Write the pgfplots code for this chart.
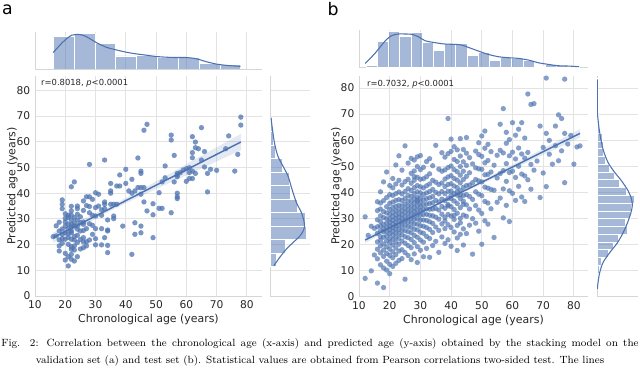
\documentclass[border=0pt]{standalone}
\usepackage{fontspec}
\usepackage{pgfplots}
\pgfplotsset{compat=1.18}
\newfontfamily\dejavu{DejaVu Sans}
\definecolor{sblue}{HTML}{4C72B0}
\definecolor{tickgray}{HTML}{262626}

\pgfplotsset{
  jp/.style={scale only axis, anchor=south west,
    axis x line*=bottom, axis y line*=left,
    axis line style={draw=black!16, line width=0.6pt},
    grid style={draw=black!11, line width=0.6pt},
    major tick length=0pt,
    tick label style={font=\dejavu\fontsize{8}{9}\selectfont, text=tickgray},
    label style={font=\dejavu\fontsize{8.2}{9}\selectfont, text=tickgray},
    xlabel shift=-2.5pt, ylabel shift=-7.5pt,
    /pgf/number format/assume math mode=true},
  hist/.style={fill=sblue, fill opacity=0.5, draw=white, line width=0.5pt},
  kde/.style={sblue, line width=0.8pt, smooth, no marks},
  dots/.style={only marks, mark=*, color=sblue,
    mark options={scale=1.0, draw opacity=0, fill=sblue, fill opacity=#1}},
}

\begin{document}
\begin{tikzpicture}
\useasboundingbox (0,0) rectangle (480pt,283.5pt);

% ---------------- panel a ----------------
\begin{axis}[jp, at={(26.25pt,231.75pt)}, width=170.25pt, height=27.75pt,
  xmin=10, xmax=85, ymin=0, ymax=113,
  xtick={10,20,...,80}, xticklabels={}, ytick=\empty, xmajorgrids]
\addplot[hist, ybar interval] coordinates {(16,100) (22.89,108) (29.78,78) (36.67,40) (43.56,43) (50.44,36) (57.33,36) (64.22,18) (71.11,13) (78,13)};
\addplot[kde] coordinates {(16.0,50) (19.3,83) (22.1,103) (24.9,105) (27.1,98) (30.4,80) (33.7,66) (37.0,58) (40.3,51) (43.6,46) (46.9,42) (50.2,38) (53.5,36) (56.8,35) (60.1,35) (63.4,31) (66.7,22) (70.0,15) (73.3,11) (77.9,8)};
\end{axis}

\begin{axis}[jp, at={(26.25pt,61.5pt)}, width=170.25pt, height=165pt,
  xmin=10, xmax=85, ymin=0, ymax=85.6,
  xtick={10,20,...,80}, ytick={0,10,...,80}, grid=major,
  xlabel={Chronological age (years)}, ylabel={Predicted age (years)}]
\addplot[fill=sblue, fill opacity=0.15, draw=none] coordinates {(16,24.7) (25,29.4) (35,35.0) (45,41.3) (55,47.9) (65,54.6) (78,63.1) (78,56.7) (65,49.6) (55,44.3) (45,38.9) (35,33.2) (25,26.8) (16,20.7)} -- cycle;
\addplot[dots=0.75] coordinates {
(47,66.8) (46,64.5) (28,51.2) (33,52.9) (44,53.7) (40,49.3) (45,48.6) (45,47.7) (38,47.1) (42,45.4)
(23,44.4) (22,42.5) (35,43.8) (40,43.8) (38,42.8) (44,42.2) (45,42.2) (46,42.2) (30,40.2) (31,39.6)
(35,40.9) (35,40.0) (37,42.8) (41,40.9) (42,40.0) (43,40.9) (45,39.6) (27,38.6) (28,38.6) (26,37.0)
(29,37.6) (33,35.7) (33,36.6) (35,35.7) (36,35.7) (37,35.7) (46,36.6) (47,33.1) (19,37.4) (19,35.7)
(19,34.0) (24,35.0) (24,34.0) (22,33.1) (26,33.3) (30,34.4) (33,34.0) (28,32.4) (29,31.4) (21,31.4)
(30,31.1) (32,31.4) (34,29.6) (36,31.1) (36,30.1) (21,30.5) (20,28.8) (22,29.6) (23,30.5) (24,29.6)
(25,28.5) (26,28.8) (26,27.9) (22,27.9) (23,27.2) (20,27.2) (21,26.2) (18,25.3) (19,24.0) (20,24.6)
(22,25.3) (22,24.6) (24,26.0) (25,25.3) (27,26.2) (30,26.2) (32,26.2) (34,25.7) (34,25.3) (39,27.2)
(43,28.5) (45,27.2) (43,24.0) (45,24.6) (16,23.1) (17,23.4) (18,21.8) (19,22.3) (20,22.1) (22,22.1)
(23,21.8) (24,23.6) (26,22.7) (28,21.8) (29,24.0) (30,22.3) (33,22.7) (18,19.5) (18,17.5) (21,20.1)
(22,19.2) (23,19.5) (27,21.1) (27,19.5) (30,19.9) (32,19.9) (34,19.7) (34,16.9) (42,16.2) (20,16.6)
(22,18.2) (23,17.9) (22,16.2) (20,14.0) (22,14.3) (21,11.7) (24,15.3) (26,18.8)
(20,30.2) (21,28.0) (22,26.8) (23,28.5) (24,27.3) (21,24.2) (23,23.2) (25,30.8) (20,32.0) (22,31.5)
(24,31.8) (19,26.1) (21,22.8) (25,22.0) (26,25.5) (28,28.1) (28,34.8) (31,35.0) (32,33.5) (27,35.2)
(22,34.9) (18,28.7) (17,27.3) (19,20.5) (24,20.8) (25,18.3) (23,13.6) (21,15.3) (26,21.0) (29,27.5)
(78,69.6) (78,66.5) (74,62.3) (73,57.3) (77,55.1) (76,48.6) (70,48.9) (68,49.3) (67,47.7) (66,50.2)
(66,56.2) (65,65.5) (63,59.9) (63,57.7) (64,57.3) (62,62.0) (62,55.8) (62,53.8) (65,52.9) (62,48.6)
(63,47.7) (61,48.0) (61,45.7) (62,45.7) (60,44.6) (60,49.5) (61,49.9) (59,49.0) (58,48.0) (57,47.1)
(57,46.4) (57,47.7) (56,44.4) (55,60.7) (55,62.6) (56,54.7) (53,50.6) (53,46.0) (52,44.4) (51,40.2)
(57,40.0) (57,38.6) (57,37.9) (67,40.5) (49,35.9) (51,34.1) (52,34.1) (55,32.4) (49,31.6) (49,22.7)
};
\addplot[sblue, line width=1.1pt, no marks] coordinates {(16,22.7) (25,28.1) (35,34.1) (45,40.1) (55,46.1) (65,52.1) (78,59.9)};
\node[anchor=north west, inner sep=0pt, font=\dejavu\fontsize{6.3}{7}\selectfont, text=tickgray]
  at (rel axis cs:0.026,0.986) {r=0.8018, {\itshape p}<0.0001};
\end{axis}

\begin{axis}[jp, at={(202.5pt,61.5pt)}, width=30pt, height=165pt,
  xmin=0, xmax=118, ymin=0, ymax=85.6,
  ytick={0,10,...,80}, yticklabels={}, xtick=\empty, ymajorgrids]
\addplot[hist, xbar interval] coordinates {(20,11.4) (45,16.7) (108,21.9) (103,27.2) (81,32.5) (61,37.7) (58,43.0) (35,48.3) (15,53.6) (11,58.8) (6,64.1) (6,69.4)};
\addplot[kde] coordinates {(3,69.4) (6,66.1) (13,59.7) (23,54.5) (38,50.6) (53,46.7) (65,41.5) (78,36.3) (93,32.4) (101,28.5) (100,25.9) (88,23.3) (68,20.8) (48,18.2) (28,14.9) (11,11.7)};
\end{axis}

% ---------------- panel b ----------------
\begin{axis}[jp, at={(269.25pt,232.7pt)}, width=171.75pt, height=28.3pt,
  xmin=10, xmax=84.6, ymin=0, ymax=113,
  xtick={10,20,...,80}, xticklabels={}, ytick=\empty, xmajorgrids]
\addplot[hist, ybar interval] coordinates {(12.3,8) (15.95,78) (19.6,108) (23.25,95) (26.9,106) (30.55,75) (34.2,53) (37.85,73) (41.5,73) (45.15,36) (48.8,45) (52.45,23) (56.1,31) (59.75,28) (63.4,21) (67.05,3) (70.7,10) (74.35,8) (78.0,3) (81.65,3)};
\addplot[kde] coordinates {(12.0,13) (15.2,43) (18.5,80) (20.6,96) (22.8,101) (25.0,101) (27.2,100) (29.3,93) (31.5,81) (34.8,75) (38.0,71) (41.3,70) (43.4,68) (45.6,61) (48.9,50) (52.1,40) (55.4,33) (58.6,30) (61.9,28) (65.2,23) (68.4,15) (71.7,10) (74.9,6) (78.2,5) (81.7,3)};
\end{axis}

\begin{axis}[jp, at={(269.25pt,61pt)}, width=171.75pt, height=165.5pt,
  xmin=10, xmax=84.6, ymin=0, ymax=84.6,
  xtick={10,20,...,80}, ytick={0,10,...,80}, grid=major,
  xlabel={Chronological age (years)}, ylabel={Predicted age (years)}]
\addplot[fill=sblue, fill opacity=0.15, draw=none] coordinates {(12,22.9) (20,27.1) (30,32.7) (40,38.6) (50,44.6) (60,50.6) (70,56.8) (82,64.2) (82,61.0) (70,54.4) (60,48.8) (50,43.2) (40,37.6) (30,31.7) (20,25.7) (12,20.5)} -- cycle;
\addplot[dots=0.68] coordinates {
(12,7.0) (12,30.6) (13,23.5) (14,9.9) (14,27.0) (15,16.0) (15,26.2)
(16,5.2) (16,14.5) (16,18.2) (16,21.0) (16,24.3) (16,26.8) (16,29.5) (16,33.0) (16,36.4)
(17,12.2) (17,16.8) (17,19.5) (17,21.6) (17,23.0) (17,25.2) (17,27.1) (17,28.8) (17,31.0) (17,33.6) (17,35.9) (17,40.2)
(18,3.5) (18,11.0) (18,15.4) (18,17.9) (18,20.2) (18,22.8) (18,24.9) (18,26.1) (18,27.7) (18,30.3) (18,32.6) (18,36.8) (18,44.0)
(19,10.2) (19,13.6) (19,16.6) (19,19.1) (19,21.4) (19,23.3) (19,25.0) (19,26.6) (19,28.2) (19,29.9) (19,32.1) (19,34.5) (19,38.0) (19,47.8)
(20,8.8) (20,12.4) (20,15.8) (20,18.3) (20,20.6) (20,22.2) (20,24.1) (20,25.6) (20,27.0) (20,28.4) (20,29.8) (20,31.5) (20,33.4) (20,35.8) (20,39.1) (20,42.6)
(21,11.6) (21,14.9) (21,17.2) (21,19.8) (21,21.9) (21,23.6) (21,25.1) (21,26.5) (21,27.9) (21,29.3) (21,30.8) (21,32.4) (21,34.2) (21,36.3) (21,38.8) (21,41.7) (21,45.3)
(22,12.8) (22,16.1) (22,18.7) (22,20.9) (22,22.7) (22,24.4) (22,25.9) (22,27.3) (22,28.6) (22,30.0) (22,31.4) (22,33.0) (22,34.7) (22,36.9) (22,39.5) (22,43.2) (22,50.5)
(23,13.9) (23,17.5) (23,20.1) (23,22.4) (23,24.2) (23,25.8) (23,27.4) (23,28.9) (23,30.3) (23,31.7) (23,33.3) (23,35.0) (23,37.2) (23,40.1) (23,44.6) (23,54.0)
(24,14.6) (24,18.0) (24,21.3) (24,23.7) (24,25.5) (24,27.2) (24,28.7) (24,30.1) (24,31.6) (24,33.1) (24,34.8) (24,36.9) (24,39.4) (24,42.8) (24,48.5)
(25,6.7) (25,16.9) (25,20.5) (25,23.0) (25,25.3) (25,27.3) (25,29.0) (25,30.6) (25,32.2) (25,33.8) (25,35.6) (25,37.7) (25,40.3) (25,44.1) (25,57.8)
(26,15.8) (26,19.6) (26,22.6) (26,24.9) (26,26.9) (26,28.6) (26,30.2) (26,31.8) (26,33.3) (26,34.9) (26,36.7) (26,38.8) (26,41.4) (26,45.0) (26,51.2)
(27,14.2) (27,18.8) (27,21.9) (27,24.5) (27,26.6) (27,28.5) (27,30.1) (27,31.7) (27,33.2) (27,34.8) (27,36.5) (27,38.4) (27,40.7) (27,43.5) (27,47.3) (27,53.0)
(28,16.4) (28,20.7) (28,23.5) (28,25.9) (28,27.9) (28,29.7) (28,31.3) (28,32.8) (28,34.3) (28,35.9) (28,37.6) (28,39.5) (28,41.8) (28,44.6) (28,48.2) (28,52.4) (28,46.0)
(29,13.1) (29,19.2) (29,22.8) (29,25.6) (29,27.8) (29,29.8) (29,31.5) (29,33.1) (29,34.7) (29,36.3) (29,38.1) (29,40.2) (29,42.6) (29,45.8) (29,49.9) (29,53.6) (29,37.0)
(30,17.8) (30,21.7) (30,24.7) (30,27.2) (30,29.3) (30,31.2) (30,33.0) (30,34.6) (30,36.2) (30,37.9) (30,39.8) (30,42.1) (30,45.0) (30,48.7) (30,54.1)
(31,15.3) (31,20.9) (31,24.3) (31,27.0) (31,29.4) (31,31.5) (31,33.4) (31,35.2) (31,37.1) (31,39.2) (31,41.7) (31,45.2) (31,49.6)
(32,18.5) (32,23.1) (32,26.5) (32,29.2) (32,31.6) (32,33.7) (32,35.6) (32,37.6) (32,39.8) (32,42.5) (32,46.0) (32,51.8)
(33,15.1) (33,22.3) (33,25.8) (33,28.7) (33,31.2) (33,33.5) (33,35.7) (33,37.9) (33,40.3) (33,43.2) (33,47.1) (33,52.9)
(34,19.6) (34,24.6) (34,28.1) (34,31.0) (34,33.6) (34,36.0) (34,38.4) (34,41.1) (34,44.6) (34,50.2)
(35,21.2) (35,26.7) (35,30.5) (35,33.8) (35,36.9) (35,40.0) (35,43.9) (35,58.0)
(36,17.0) (36,25.4) (36,29.7) (36,33.2) (36,36.3) (36,39.4) (36,43.0) (36,48.9)
(37,22.9) (37,27.9) (37,31.6) (37,34.6) (37,37.4) (37,40.3) (37,43.6) (37,48.1) (37,55.2)
(38,20.4) (38,26.1) (38,30.4) (38,33.9) (38,36.8) (38,39.5) (38,42.2) (38,45.1) (38,48.6) (38,53.5) (38,29.0)
(39,21.8) (39,27.6) (39,31.5) (39,34.8) (39,37.7) (39,40.4) (39,43.0) (39,45.9) (39,49.5) (39,54.8) (39,68.3) (39,35.3)
(40,19.3) (40,26.5) (40,30.9) (40,34.5) (40,37.6) (40,40.5) (40,43.3) (40,46.4) (40,50.1) (40,55.7) (40,60.4) (40,38.8)
(41,24.8) (41,29.6) (41,33.4) (41,36.7) (41,39.6) (41,42.4) (41,45.3) (41,48.7) (41,52.6) (41,57.5) (41,31.2)
(42,17.7) (42,27.3) (42,32.0) (42,35.7) (42,38.9) (42,41.8) (42,44.7) (42,47.9) (42,51.8) (42,56.3) (42,22.5) (42,40.1)
(43,23.9) (43,30.0) (43,34.1) (43,37.6) (43,40.7) (43,43.6) (43,46.6) (43,49.9) (43,53.9) (43,60.6) (43,28.3) (43,39.0)
(44,26.0) (44,31.3) (44,35.4) (44,38.8) (44,41.9) (44,44.9) (44,48.1) (44,51.7) (44,56.4) (44,19.8) (44,36.6)
(45,24.2) (45,30.8) (45,35.2) (45,39.1) (45,42.6) (45,46.1) (45,50.3) (45,55.0) (45,61.0)
(46,27.4) (46,33.6) (46,38.4) (46,42.8) (46,47.5) (46,53.3)
(47,16.3) (47,29.9) (47,37.3) (47,43.7) (47,50.9)
(48,28.2) (48,34.9) (48,40.2) (48,44.9) (48,49.4) (48,55.8)
(49,25.1) (49,33.2) (49,39.3) (49,44.4) (49,49.0) (49,54.5) (49,59.0)
(50,20.1) (50,31.9) (50,38.7) (50,44.0) (50,48.8) (50,53.8) (50,61.6)
(51,29.1) (51,36.5) (51,42.0) (51,46.7) (51,51.3) (51,56.9) (51,63.5)
(52,27.8) (52,35.9) (52,41.6) (52,46.9) (52,52.2) (52,58.4)
(53,33.7) (53,41.1) (53,47.8) (53,55.6) (54,22.7) (54,40.8) (54,50.4)
(55,36.2) (55,45.5) (55,54.2) (56,37.8) (56,47.2) (56,56.1) (56,66.1)
(57,30.2) (57,41.3) (57,48.3) (57,55.1) (57,72.1) (58,35.0) (58,44.2) (58,51.0) (58,58.8) (58,63.0)
(59,28.8) (59,40.6) (59,47.6) (59,54.0) (59,60.2) (60,39.6) (60,48.1) (60,55.4) (60,66.7)
(61,36.9) (61,45.7) (61,52.8) (61,61.9) (62,42.3) (62,50.0) (62,57.0) (62,64.2)
(63,38.2) (63,47.0) (63,54.7) (63,66.7) (64,36.5) (64,46.3) (64,53.1) (64,60.8)
(65,44.8) (65,55.3) (65,77.7) (66,41.2) (66,50.7) (66,73.7) (67,48.5) (67,74.0) (68,52.0)
(69,38.0) (69,65.4) (70,47.4) (70,57.2) (71,42.2) (71,62.6) (71,83.8) (72,54.6) (72,59.9) (73,50.8)
(74,57.9) (74,65.4) (75,52.1) (75,69.7) (76,55.9) (76,68.3) (77,43.7) (77,62.6) (77,83.4) (78,58.5)
(79,61.8) (80,50.8) (81,57.4) (82,57.8)
};
\addplot[sblue, line width=1.1pt, no marks] coordinates {(12,21.7) (20,26.4) (30,32.2) (40,38.1) (50,43.9) (60,49.7) (70,55.6) (82,62.6)};
\node[anchor=north west, inner sep=0pt, font=\dejavu\fontsize{6.3}{7}\selectfont, text=tickgray]
  at (rel axis cs:0.034,0.98) {r=0.7032, {\itshape p}<0.0001};
\end{axis}

\begin{axis}[jp, at={(447.75pt,61pt)}, width=30.75pt, height=165.5pt,
  xmin=0, xmax=122, ymin=0, ymax=84.6,
  ytick={0,10,...,80}, yticklabels={}, xtick=\empty, ymajorgrids]
\addplot[hist, xbar interval] coordinates {(1,3.2) (3,6.2) (8,9.1) (13,12.1) (33,15.1) (48,18.1) (63,21.0) (91,24.0) (85,27.0) (100,30.0) (103,32.9) (111,35.9) (88,38.9) (66,41.9) (53,44.9) (38,47.8) (25,50.8) (18,53.8) (18,56.8) (15,59.7) (8,62.7) (4,65.7) (3,68.7) (2,71.6) (1,74.6) (1,77.6) (1,80.6) (1,83.6)};
\addplot[kde] coordinates {(1,83.3) (1,71.8) (3,68.0) (8,62.9) (18,56.5) (33,51.4) (53,47.6) (73,44.4) (93,40.5) (103,37.3) (105,34.8) (101,32.2) (91,28.4) (78,24.6) (61,20.7) (38,16.9) (18,13.1) (8,9.2) (3,5.4) (1,2.9)};
\end{axis}

% panel letters and caption
\node[font=\dejavu\fontsize{13}{13}\selectfont] at (5.6pt,276.5pt) {a};
\node[font=\dejavu\fontsize{13}{13}\selectfont] at (249.75pt,276.5pt) {b};
\node[anchor=base, inner sep=0pt, font=\fontsize{7.85}{10}\selectfont] at (240pt,23.25pt)
  {\makebox[478pt][s]{Fig. 2: Correlation between the chronological age (x-axis) and predicted age (y-axis) obtained by the stacking model on the}};
\node[anchor=base, inner sep=0pt, font=\fontsize{7.85}{10}\selectfont] at (240pt,10.5pt)
  {validation set (a) and test set (b). Statistical values are obtained from Pearson correlations two-sided test. The lines};
\end{tikzpicture}
\end{document}
